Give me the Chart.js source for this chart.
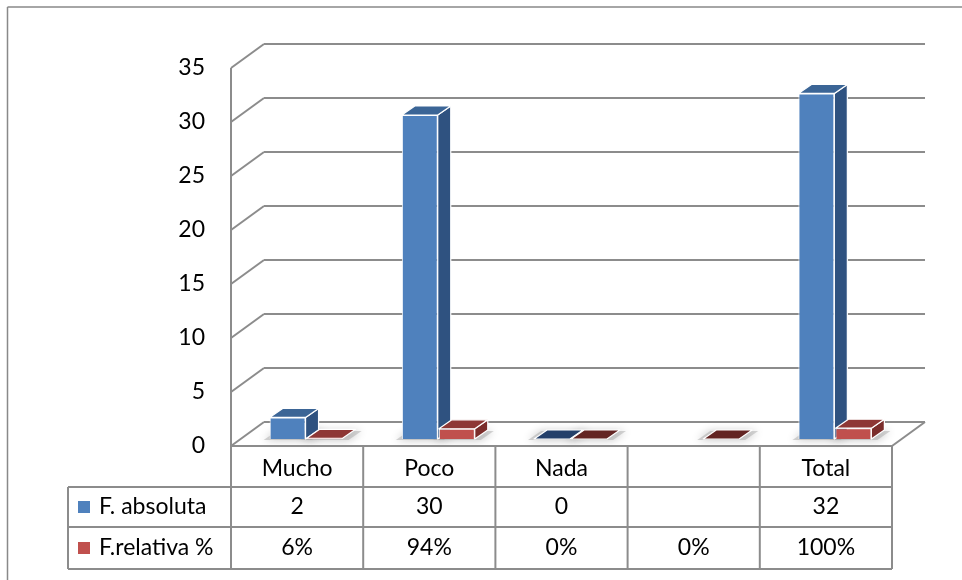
<!DOCTYPE html>
<html>
<head>
<meta charset="utf-8">
<script src="https://cdn.jsdelivr.net/npm/chart.js@4.4.1/dist/chart.umd.min.js"></script>
<style>
  html, body { margin: 0; padding: 0; background: #ffffff; }
  #contenedor { width: 962px; height: 580px; position: relative; }
</style>
</head>
<body>
<div id="contenedor"><canvas id="grafico" width="962" height="580"></canvas></div>
<script>
const categorias = ["Mucho", "Poco", "Nada", "", "Total"];
const absoluta = [2, 30, 0, null, 32];
const relativa = [0.06, 0.94, 0, 0, 1];
const nombresSeries = ["F. absoluta", "F.relativa %"];
const pasoY = 5;
const maxY = 35;

const fuente = "Lato, 'Open Sans', sans-serif";
const gris = "#8c8c8c";

// profundidad de las paredes y de las columnas
const DX = 33, DY = -24;
const BX = 9, BY = -7;
const PX = 13, PY = -9;

const frente = ["#4f81bd", "#c0504d"];
const tapa = ["#3b6596", "#8e3735"];
const lado = ["#2f5280", "#7b2d2b"];
const tapaCero = ["#24406a", "#632523"];

function poligono(ctx, puntos, color) {
  ctx.beginPath();
  ctx.moveTo(puntos[0][0], puntos[0][1]);
  for (let i = 1; i < puntos.length; i++) ctx.lineTo(puntos[i][0], puntos[i][1]);
  ctx.closePath();
  ctx.fillStyle = color;
  ctx.fill();
  ctx.strokeStyle = "#ffffff";
  ctx.lineWidth = 1.2;
  ctx.lineJoin = "round";
  ctx.stroke();
}

function linea(ctx, x1, y1, x2, y2) {
  ctx.beginPath();
  ctx.moveTo(x1, y1);
  ctx.lineTo(x2, y2);
  ctx.stroke();
}

function caraDe(el) {
  const p = el.getProps(["x", "y", "base", "width"], true);
  return {
    l: p.x - p.width / 2 + BX,
    r: p.x + p.width / 2 + BX,
    t: p.y + BY,
    b: p.base + BY
  };
}

const columnas3d = {
  id: "columnas3d",
  beforeDraw(chart) {
    const ctx = chart.ctx;
    ctx.save();
    ctx.fillStyle = "#ffffff";
    ctx.fillRect(0, 0, chart.width, chart.height);
    ctx.strokeStyle = "#898989";
    ctx.lineWidth = 1.5;
    linea(ctx, 7.5, 7, chart.width, 7);
    linea(ctx, 7.5, 7, 7.5, chart.height);
    ctx.restore();
  },
  beforeDatasetsDraw(chart) {
    const ctx = chart.ctx;
    const { left, right } = chart.chartArea;
    const y = chart.scales.y;
    const metas = [chart.getDatasetMeta(0), chart.getDatasetMeta(1)];
    ctx.save();

    // sombras sobre el suelo
    for (let i = 0; i < categorias.length; i++) {
      metas.forEach((meta, d) => {
        const valor = chart.data.datasets[d].data[i];
        if (valor === null || valor === undefined) return;
        const c = caraDe(meta.data[i]);
        ctx.save();
        ctx.shadowColor = "rgba(0,0,0,0.45)";
        ctx.shadowBlur = 9;
        ctx.fillStyle = "rgba(170,170,170,0.5)";
        ctx.beginPath();
        ctx.moveTo(c.l - 6, c.b + 1);
        ctx.lineTo(c.r + 6, c.b + 1);
        ctx.lineTo(c.r + PX + 6, c.b + PY + 1);
        ctx.lineTo(c.l + PX - 6, c.b + PY + 1);
        ctx.closePath();
        ctx.fill();
        ctx.restore();
      });
    }

    ctx.strokeStyle = gris;
    ctx.lineWidth = 2;
    // pared del fondo y lateral
    for (let v = 0; v <= maxY; v += pasoY) {
      const yf = y.getPixelForValue(v);
      linea(ctx, left, yf, left + DX, yf + DY);
      linea(ctx, left + DX, yf + DY, right + DX, yf + DY);
    }
    linea(ctx, left, y.getPixelForValue(maxY), left, y.getPixelForValue(0));
    // suelo
    const y0 = y.getPixelForValue(0);
    linea(ctx, right + DX, y0 + DY, right, y0);
    linea(ctx, left, y0, right, y0);

    // columnas en orden de izquierda a derecha
    for (let i = 0; i < categorias.length; i++) {
      metas.forEach((meta, d) => {
        const valor = chart.data.datasets[d].data[i];
        if (valor === null || valor === undefined) return;
        const el = meta.data[i];
        const { l, r, t, b } = caraDe(el);
        if (b - t > 1) {
          poligono(ctx, [[r, t], [r + PX, t + PY], [r + PX, b + PY], [r, b]], lado[d]);
        }
        poligono(ctx, [[l, t], [l + PX, t + PY], [r + PX, t + PY], [r, t]], valor === 0 ? tapaCero[d] : tapa[d]);
        ctx.save();
        ctx.translate(BX, BY);
        el.draw(ctx);
        ctx.restore();
      });
    }
    ctx.restore();
    return false;
  },
  afterDraw(chart) {
    const ctx = chart.ctx;
    const { left, right, bottom } = chart.chartArea;
    const x = chart.scales.x;
    const ancho = (right - left) / categorias.length;
    const izqTabla = 68;
    const filas = [bottom, bottom + 41, bottom + 81, bottom + 123];

    ctx.save();
    ctx.strokeStyle = gris;
    ctx.lineWidth = 2;
    for (let i = 0; i <= categorias.length; i++) {
      const xc = left + i * ancho;
      linea(ctx, xc, filas[0], xc, filas[3]);
    }
    linea(ctx, izqTabla, filas[1], izqTabla, filas[3]);
    for (let f = 1; f < filas.length; f++) {
      linea(ctx, izqTabla, filas[f], right, filas[f]);
    }

    ctx.fillStyle = "#000000";
    ctx.font = "23px " + fuente;
    ctx.textAlign = "center";
    ctx.textBaseline = "middle";
    categorias.forEach((c, i) => {
      const xc = x.getPixelForValue(i);
      ctx.fillText(c, xc, (filas[0] + filas[1]) / 2 + 2);
      const a = absoluta[i];
      ctx.fillText(a === null ? "" : String(a), xc, (filas[1] + filas[2]) / 2);
      ctx.fillText(Math.round(relativa[i] * 100) + "%", xc, (filas[2] + filas[3]) / 2);
    });

    ctx.textAlign = "left";
    nombresSeries.forEach((n, s) => {
      const yc = (filas[s + 1] + filas[s + 2]) / 2;
      ctx.fillStyle = frente[s];
      ctx.fillRect(78, yc - 6, 12, 12);
      ctx.fillStyle = "#000000";
      ctx.fillText(n, 99, yc);
    });
    ctx.restore();
  }
};

new Chart(document.getElementById("grafico"), {
  type: "bar",
  data: {
    labels: categorias,
    datasets: [
      {
        label: nombresSeries[0],
        data: absoluta,
        backgroundColor: frente[0],
        borderColor: "#ffffff",
        borderWidth: 1,
        barPercentage: 0.97,
        categoryPercentage: 0.56
      },
      {
        label: nombresSeries[1],
        data: relativa,
        backgroundColor: frente[1],
        borderColor: "#ffffff",
        borderWidth: 1,
        barPercentage: 0.97,
        categoryPercentage: 0.56
      }
    ]
  },
  options: {
    responsive: false,
    animation: false,
    devicePixelRatio: 1,
    layout: {
      padding: { left: 150, right: 70, top: 68, bottom: 134 }
    },
    plugins: {
      legend: { display: false },
      tooltip: { enabled: false }
    },
    scales: {
      x: { display: false },
      y: {
        min: 0,
        max: maxY,
        afterFit: (scale) => { scale.width = 81; },
        ticks: {
          stepSize: pasoY,
          color: "#000000",
          padding: 26,
          font: { family: fuente, size: 23 }
        },
        grid: { display: false, drawTicks: false },
        border: { display: false }
      }
    }
  },
  plugins: [columnas3d]
});
</script>
</body>
</html>
